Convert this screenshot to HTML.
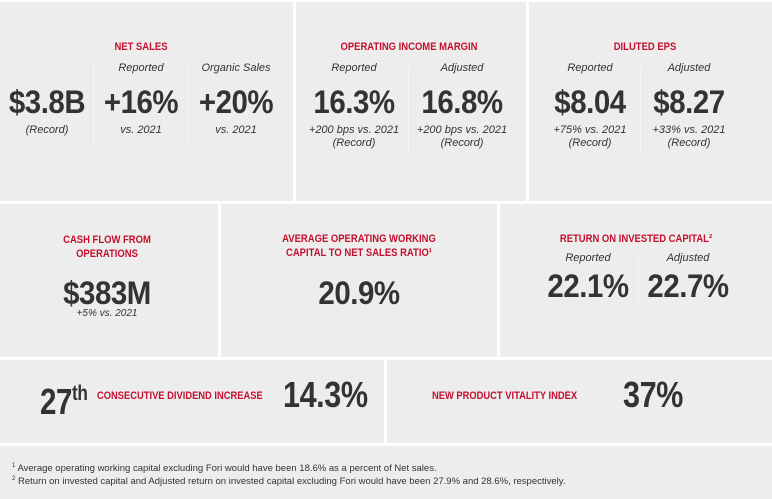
<!DOCTYPE html>
<html><head><meta charset="utf-8"><style>
body{margin:0;width:772px;height:499px;background:#fff;position:relative;overflow:hidden;font-family:"Liberation Sans",sans-serif}
.p{position:absolute;background:#ededed}
.t{position:absolute;text-align:center;white-space:nowrap;width:200px}
.h{font-weight:bold;color:#c3102e;font-size:11px;line-height:14px;transform:scaleX(.86)}
.s{font-style:italic;color:#333;font-size:11px;line-height:13px}
.b{font-weight:bold;color:#333;font-size:32px;line-height:32px;letter-spacing:-0.5px;transform:scaleX(.92)}
.L{width:auto;text-align:left;transform-origin:0 50%}
.d{position:absolute;width:0;border-left:1px dotted #fff}
.f{position:absolute;left:12px;font-size:9.5px;color:#333;white-space:nowrap}
</style></head><body>
<div class="p" style="left:0;top:2px;width:293px;height:199px"></div>
<div class="p" style="left:296px;top:2px;width:230px;height:199px"></div>
<div class="p" style="left:529px;top:2px;width:243px;height:199px"></div>
<div class="p" style="left:0;top:204px;width:218px;height:153px"></div>
<div class="p" style="left:221px;top:204px;width:276px;height:153px"></div>
<div class="p" style="left:500px;top:204px;width:272px;height:153px"></div>
<div class="p" style="left:0;top:360px;width:384px;height:83px"></div>
<div class="p" style="left:387px;top:360px;width:385px;height:83px"></div>
<div class="p" style="left:0;top:446px;width:772px;height:53px"></div>

<div class="d" style="left:93px;top:66px;height:80px"></div>
<div class="d" style="left:187px;top:66px;height:80px"></div>
<div class="d" style="left:408px;top:66px;height:85px"></div>
<div class="d" style="left:640px;top:66px;height:85px"></div>
<div class="d" style="left:638px;top:254px;height:50px"></div>

<div class="t h" style="left:41px;top:40px">NET SALES</div>
<div class="t s" style="left:41px;top:62px">Reported</div>
<div class="t s" style="left:136px;top:62px">Organic Sales</div>
<div class="t b" style="left:-53px;top:86px">$3.8B</div>
<div class="t b" style="left:41px;top:86px">+16%</div>
<div class="t b" style="left:136px;top:86px">+20%</div>
<div class="t s" style="left:-53px;top:124px">(Record)</div>
<div class="t s" style="left:41px;top:124px">vs. 2021</div>
<div class="t s" style="left:136px;top:124px">vs. 2021</div>

<div class="t h" style="left:309px;top:40px">OPERATING INCOME MARGIN</div>
<div class="t s" style="left:254px;top:62px">Reported</div>
<div class="t s" style="left:362px;top:62px">Adjusted</div>
<div class="t b" style="left:254px;top:86px">16.3%</div>
<div class="t b" style="left:362px;top:86px">16.8%</div>
<div class="t s" style="left:254px;top:124px">+200 bps vs. 2021<br>(Record)</div>
<div class="t s" style="left:362px;top:124px">+200 bps vs. 2021<br>(Record)</div>

<div class="t h" style="left:545px;top:40px">DILUTED EPS</div>
<div class="t s" style="left:490px;top:62px">Reported</div>
<div class="t s" style="left:589px;top:62px">Adjusted</div>
<div class="t b" style="left:490px;top:86px">$8.04</div>
<div class="t b" style="left:589px;top:86px">$8.27</div>
<div class="t s" style="left:490px;top:124px">+75% vs. 2021<br>(Record)</div>
<div class="t s" style="left:589px;top:124px">+33% vs. 2021<br>(Record)</div>

<div class="t h" style="left:7px;top:233px">CASH FLOW FROM<br>OPERATIONS</div>
<div class="t b" style="left:7px;top:277px">$383M</div>
<div class="t s" style="left:7px;top:307px;font-size:10px">+5% vs. 2021</div>

<div class="t h" style="left:259px;top:232px">AVERAGE OPERATING WORKING<br>CAPITAL TO NET SALES RATIO¹</div>
<div class="t b" style="left:259px;top:277px">20.9%</div>

<div class="t h" style="left:536px;top:232px">RETURN ON INVESTED CAPITAL²</div>
<div class="t s" style="left:488px;top:252px">Reported</div>
<div class="t s" style="left:588px;top:252px">Adjusted</div>
<div class="t b" style="left:488px;top:270px">22.1%</div>
<div class="t b" style="left:588px;top:270px">22.7%</div>

<div class="t b L" style="left:40px;top:378px;font-size:36px;transform:scaleX(.82)">27<span style="font-size:21px;vertical-align:14px">th</span></div>
<div class="t h L" style="left:97px;top:389px;transform:scaleX(.85)">CONSECUTIVE DIVIDEND INCREASE</div>
<div class="t b L" style="left:283px;top:379px;font-size:36px;transform:scaleX(.85)">14.3%</div>
<div class="t h L" style="left:432px;top:389px;transform:scaleX(.85)">NEW PRODUCT VITALITY INDEX</div>
<div class="t b L" style="left:623px;top:379px;font-size:36px;transform:scaleX(.85)">37%</div>

<div class="f" style="top:463px"><sup style="font-size:6px">1</sup> Average operating working capital excluding Fori would have been 18.6% as a percent of Net sales.</div>
<div class="f" style="top:476px"><sup style="font-size:6px">2</sup> Return on invested capital and Adjusted return on invested capital excluding Fori would have been 27.9% and 28.6%, respectively.</div>
</body></html>
